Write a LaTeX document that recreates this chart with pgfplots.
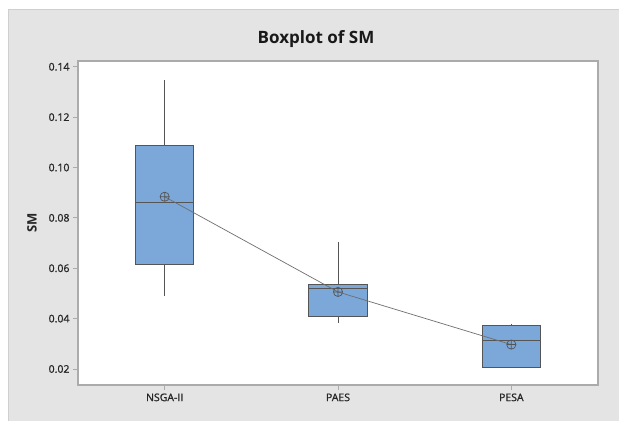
\documentclass[border=0pt]{standalone}
\usepackage{fontspec}
\setmainfont{Open Sans}
\newfontfamily\tickfont[FakeBold=1.2]{Open Sans}
\usepackage{pgfplots}
\pgfplotsset{compat=1.18}
\usepgfplotslibrary{statistics}
\usetikzlibrary{plotmarks}

\definecolor{panel}{HTML}{E4E4E4}
\definecolor{paneledge}{HTML}{CFCFCF}
\definecolor{boxblue}{HTML}{7BA7D9}
\definecolor{edge}{HTML}{555555}
\definecolor{frame}{HTML}{ABABAB}
\definecolor{labeltext}{HTML}{262626}

\begin{document}
\begin{tikzpicture}
% page and grey panel
\path[use as bounding box] (0pt,0pt) rectangle (619pt,421pt);
\fill[white] (0pt,0pt) rectangle (619pt,421pt);
\fill[panel] (8pt,0pt) rectangle (619pt,412pt);
\draw[paneledge, line width=0.8pt] (8pt,0pt) -- (8pt,412pt) -- (619pt,412pt);

\begin{axis}[
  at={(78pt,36pt)}, anchor=south west,
  scale only axis, width=520pt, height=324pt,
  xmin=0.5, xmax=3.5, ymin=0.01365, ymax=0.1423,
  axis background/.style={fill=white},
  axis line style={frame, line width=1.1pt},
  xtick={1,2,3}, xticklabels={NSGA-II,PAES,PESA},
  ytick={0.02,0.04,0.06,0.08,0.10,0.12,0.14},
  xtick pos=bottom, ytick pos=left,
  tick align=outside, major tick length=5pt,
  tick style={frame, line width=0.9pt},
  ticklabel style={font=\tickfont\fontsize{10.5}{12}\selectfont, text=labeltext},
  yticklabel style={/pgf/number format/fixed, /pgf/number format/fixed zerofill,
    /pgf/number format/precision=2, /pgf/number format/assume math mode=true},
  boxplot/draw direction=y,
]
% NSGA-II
\addplot+[boxplot prepared={lower whisker=0.0489, lower quartile=0.0615,
  median=0.0862, upper quartile=0.1087, upper whisker=0.1347,
  draw position=1, box extend=0.336, whisker extend=0},
  draw=edge, fill=boxblue, line width=0.9pt, solid, mark=none] coordinates {};
% PAES
\addplot+[boxplot prepared={lower whisker=0.0383, lower quartile=0.0409,
  median=0.0519, upper quartile=0.0535, upper whisker=0.0703,
  draw position=2, box extend=0.336, whisker extend=0},
  draw=edge, fill=boxblue, line width=0.9pt, solid, mark=none] coordinates {};
% PESA
\addplot+[boxplot prepared={lower whisker=0.0205, lower quartile=0.0205,
  median=0.0314, upper quartile=0.0373, upper whisker=0.0380,
  draw position=3, box extend=0.336, whisker extend=0},
  draw=edge, fill=boxblue, line width=0.9pt, solid, mark=none] coordinates {};
% means, connected
\addplot[draw=edge!85, line width=0.7pt, mark=oplus, mark size=4.6pt,
  mark options={draw=edge, fill=boxblue, line width=0.7pt}]
  coordinates {(1,0.0884) (2,0.0506) (3,0.0297)};
\end{axis}

\node[anchor=base, font=\fontsize{17}{20}\selectfont\bfseries, text=black!90] at (316pt,377.7pt) {Boxplot of SM};
\node[rotate=90, font=\fontsize{13}{15}\selectfont\bfseries, text=labeltext] at (32pt,198.5pt) {SM};
\end{tikzpicture}
\end{document}
